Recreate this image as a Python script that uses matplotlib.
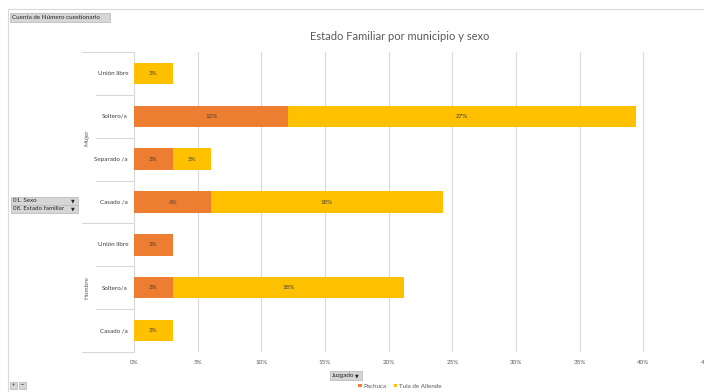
import matplotlib
matplotlib.use("Agg")
import matplotlib.pyplot as plt
from matplotlib.patches import Rectangle, Patch
from matplotlib.lines import Line2D
from matplotlib.transforms import blended_transform_factory

# Data (percent of total count), rows from top to bottom
sexo = ["Mujer", "Mujer", "Mujer", "Mujer", "Hombre", "Hombre", "Hombre"]
estado = ["Unión libre", "Soltero/a", "Separado /a", "Casado /a",
          "Unión libre", "Soltero/a", "Casado /a"]
pachuca = [0, 12.12, 3.03, 6.06, 3.03, 3.03, 0]
tula = [3.03, 27.27, 3.03, 18.18, 0, 18.18, 3.03]
series_names = ["Pachuca", "Tula de Allende"]
colors = ["#ED7D31", "#FFC000"]

W, H = 704, 392
plt.rcParams["font.family"] = ["Lato", "DejaVu Sans"]

fig = plt.figure(figsize=(W / 100, H / 100), dpi=100)


def fx(px):
    return px / W


def fy(py):
    return 1 - py / H


def button(x0, y0, w, h, text, arrow=True, size=4.5):
    fig.add_artist(Rectangle((fx(x0), fy(y0 + h)), w / W, h / H,
                             transform=fig.transFigure, facecolor="#d6d6d6",
                             edgecolor="#bdbdbd", lw=0.6))
    fig.text(fx(x0 + 2), fy(y0 + h / 2), text, fontsize=size,
             color="#262626", va="center", ha="left")
    if arrow:
        fig.text(fx(x0 + w - 3), fy(y0 + h / 2), "▼", fontsize=3.5,
                 color="#262626", va="center", ha="right",
                 family="DejaVu Sans")


# outer chart border
fig.add_artist(Rectangle((fx(8), fy(H + 5)), 1, (H - 4) / H,
                         transform=fig.transFigure, facecolor="none",
                         edgecolor="#d9d9d9", lw=0.8))

ax = fig.add_axes([fx(134), fy(352), (707 - 134) / W, (352 - 52) / H])
n = len(estado)
ypos = [n - 1 - i for i in range(n)]

ax.barh(ypos, pachuca, height=0.5, color=colors[0], zorder=3)
ax.barh(ypos, tula, left=pachuca, height=0.5, color=colors[1], zorder=3)

for y, p, t in zip(ypos, pachuca, tula):
    if p > 0:
        ax.text(p / 2, y, f"{round(p)}%", ha="center", va="center",
                fontsize=4.5, color="#404040", zorder=4)
    if t > 0:
        ax.text(p + t / 2, y, f"{round(t)}%", ha="center", va="center",
                fontsize=4.5, color="#404040", zorder=4)

ax.set_xlim(0, 45)
ax.set_ylim(-0.5, n - 0.5)
ax.set_xticks(range(0, 50, 5))
ax.set_xticklabels([f"{v}%" for v in range(0, 50, 5)])
ax.tick_params(axis="x", length=0, labelsize=4.5, labelcolor="#595959", pad=6)
ax.set_yticks([])
ax.grid(axis="x", color="#d9d9d9", lw=0.8, zorder=0)
for s in ["top", "right", "bottom"]:
    ax.spines[s].set_visible(False)
ax.spines["left"].set_color("#d9d9d9")
ax.spines["left"].set_linewidth(0.8)

# multi-level category axis
tr = blended_transform_factory(fig.transFigure, ax.transData)
for y, lab in zip(ypos, estado):
    fig.text(fx(128), y, lab, transform=tr, fontsize=4.5, color="#404040",
             ha="right", va="center")
groups = {}
for y, s in zip(ypos, sexo):
    groups.setdefault(s, []).append(y)
for s, ys in groups.items():
    fig.text(fx(87), (min(ys) + max(ys)) / 2, s, transform=tr,
             fontsize=4.5, color="#595959", rotation=90,
             ha="center", va="center")

lc = "#d9d9d9"
for yb in [n - 0.5, -0.5]:
    fig.add_artist(Line2D([fx(82), fx(134)], [yb, yb], transform=tr,
                          color=lc, lw=0.8))
for i in range(1, n):
    yb = n - 0.5 - i
    x0 = 82 if sexo[i] != sexo[i - 1] else 96
    fig.add_artist(Line2D([fx(x0), fx(134)], [yb, yb], transform=tr,
                          color=lc, lw=0.8))

fig.text(fx(400), fy(37), "Estado Familiar por municipio y sexo",
         fontsize=8, color="#595959", ha="center", va="center")

# pivot field buttons
button(10, 13, 100, 9, "Cuenta de Número cuestionario", arrow=False)
button(11, 197, 67, 8, "01. Sexo")
button(11, 205, 67, 8, "08. Estado familiar")
button(330, 371, 32, 9, "Juzgado")
button(10, 382, 7, 7, "+", arrow=False, size=4)
button(19, 382, 7, 7, "−", arrow=False, size=4)

handles = [Patch(facecolor=c, edgecolor="none") for c in colors]
fig.legend(handles, series_names, loc="center", ncol=2,
           bbox_to_anchor=(fx(400), fy(386)), frameon=False, fontsize=4.5,
           handlelength=0.5, handleheight=0.5, handletextpad=0.3,
           columnspacing=1.2, labelcolor="#595959")

fig.savefig("out.png", dpi=100)
